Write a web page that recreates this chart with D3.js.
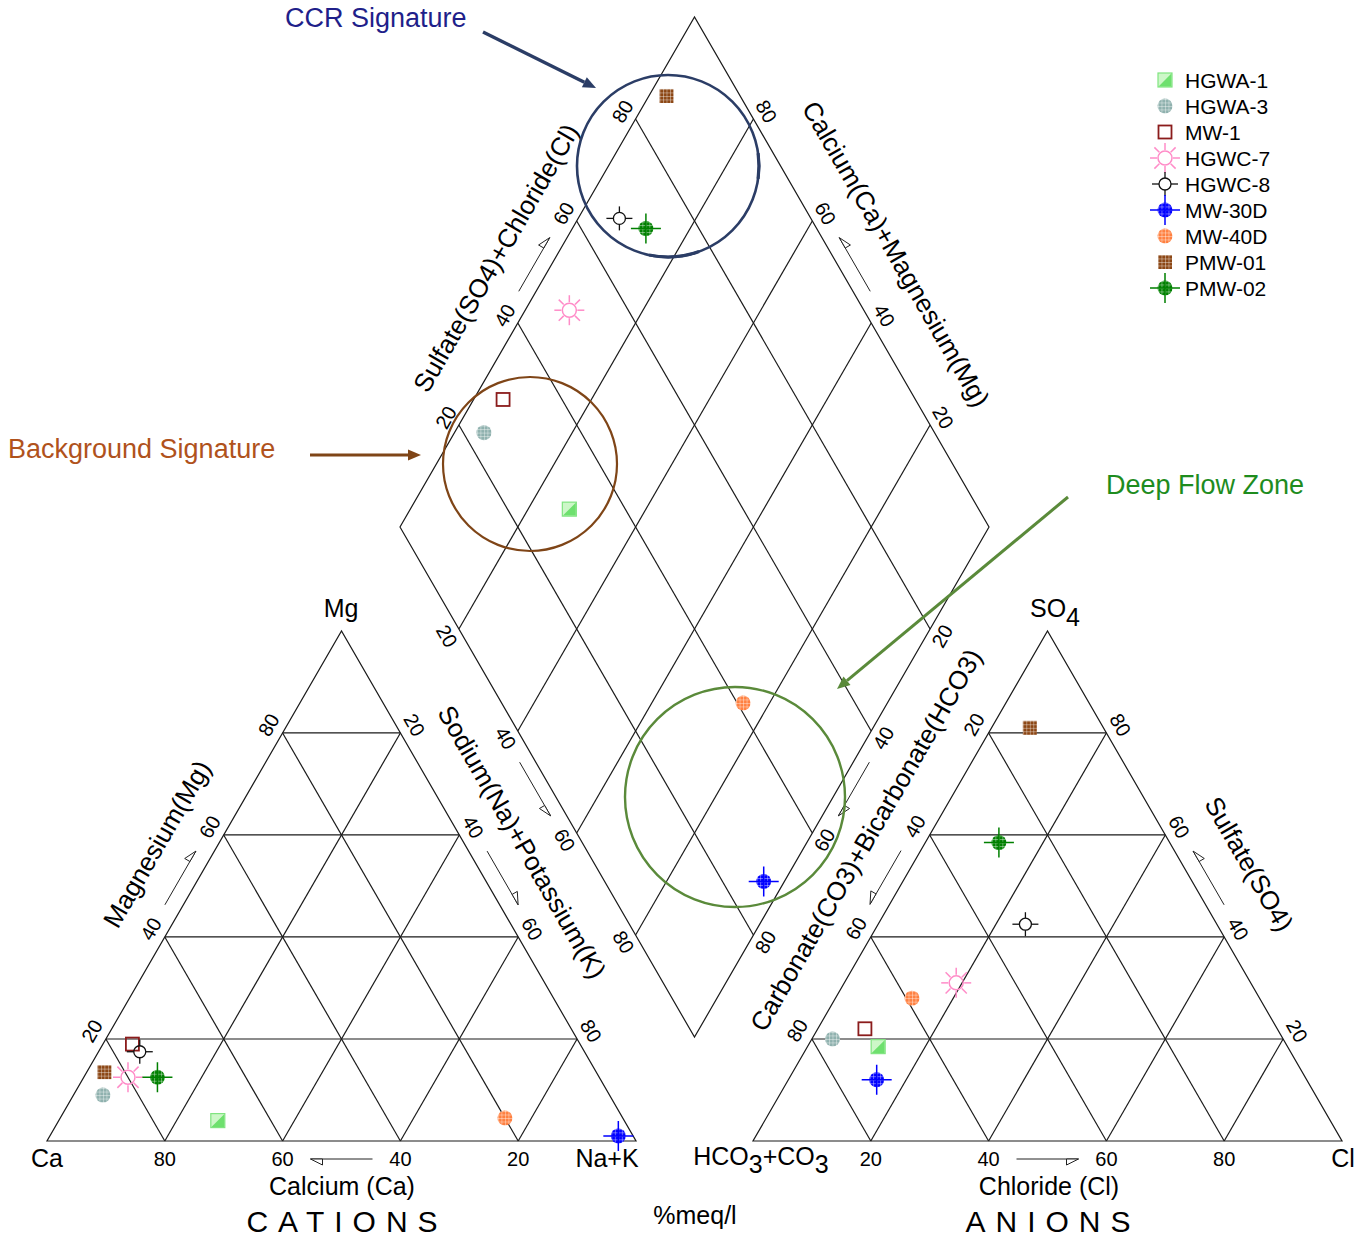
<!DOCTYPE html>
<html>
<head>
<meta charset="utf-8">
<script src="https://cdn.jsdelivr.net/npm/d3@7"></script>
<style>
  body { margin: 0; background: #fff; }
  svg { display: block; font-family: "Liberation Sans", Arial, Helvetica, sans-serif; }
</style>
</head>
<body>
<svg id="chart" width="1364" height="1241"></svg>
<script>
// ---- Sample chemistry, % meq/l ----
const samples         = ["HGWA-1", "HGWA-3", "MW-1", "HGWC-7", "HGWC-8", "MW-30D", "MW-40D", "PMW-01", "PMW-02"];
const calcium         = [69,   86,   76,   80,   75.5, 2.5,  20,   83.5, 75];
const magnesium       = [4,    9,    19,   12.5, 17.5, 1,    4.5,  13.5, 12.5];
const sodiumPotassium = [27,   5,    5,    7.5,  7,    96.5, 75.5, 3,    12.5];
const chloride        = [12,   3.5,  8,    19,   25,   15,   13,   6.5,  12.5];
const sulfate         = [18.5, 20,   22,   31,   42.5, 12,   28,   81,   58.5];
const bicarbonate     = [69.5, 76.5, 70,   50,   32.5, 73,   59,   12.5, 29];

// ---- Axis ticks ----
const gridTicks = [20, 40, 60, 80];

// ---- Symbol styling per sample ----
const symbolKinds  = ["halfSquare", "meshCircle", "openSquare", "sun", "ringCross", "meshCross", "meshCircle", "meshSquare", "meshCross"];
const symbolColors = ["#80e480", "#8fb1ae", "#8b1c1c", "#ff8cc8", "#111111", "#0000ff", "#ff7f3f", "#8b4513", "#008000"];

// ---- Zones ----
const zoneNames  = ["CCR Signature", "Background Signature", "Deep Flow Zone"];
const zoneColors = ["#2b3d66", "#7f4517", "#5a8a3a"];
const zoneText   = ["#1f1f8a", "#b0521c", "#1e8c1e"];

const svg = d3.select("#chart");
const defs = svg.append("defs");

// geometry
const SIDE = 589;
const HEIGHT = SIDE * Math.sqrt(3) / 2;
const along = d3.scaleLinear().domain([0, 100]).range([0, SIDE]);
const rise  = d3.scaleLinear().domain([0, 100]).range([0, HEIGHT]);

const cationOrigin = { x: 47, y: 1141 };
const anionOrigin  = { x: 753, y: 1141 };
const diamondLeft  = { x: 400, y: 527 };

// a: share toward the lower-right vertex, b: share toward the apex
function tri(origin, a, b) {
  return [origin.x + along(a) + along(b) / 2, origin.y - rise(b)];
}
// n: Na+K, s: SO4+Cl
function dia(n, s) {
  return [diamondLeft.x + along(n) / 2 + along(s) / 2, diamondLeft.y + rise(n) - rise(s)];
}

const lineGen = d3.line();
const frame = svg.append("g").attr("fill", "none").attr("stroke", "#1a1a1a").attr("stroke-width", 1.2);

function drawTriangle(origin) {
  frame.append("path").attr("d", lineGen([tri(origin, 0, 0), tri(origin, 100, 0), tri(origin, 0, 100)]) + "Z");
  gridTicks.forEach(k => {
    frame.append("path").attr("d", lineGen([tri(origin, 0, k), tri(origin, 100 - k, k)]));
    frame.append("path").attr("d", lineGen([tri(origin, k, 0), tri(origin, k, 100 - k)]));
    frame.append("path").attr("d", lineGen([tri(origin, 100 - k, 0), tri(origin, 0, 100 - k)]));
  });
}
drawTriangle(cationOrigin);
drawTriangle(anionOrigin);

frame.append("path").attr("d", lineGen([dia(0, 0), dia(100, 0), dia(100, 100), dia(0, 100)]) + "Z");
gridTicks.forEach(k => {
  frame.append("path").attr("d", lineGen([dia(k, 0), dia(k, 100)]));
  frame.append("path").attr("d", lineGen([dia(0, k), dia(100, k)]));
});

// ---- side tick labels and direction arrows ----
const labelLayer = svg.append("g").attr("fill", "#000");
const c30 = Math.sqrt(3) / 2;

function sideLabels(pointAt, normal, rotation, offset, halo, fontSize) {
  const pos = {};
  gridTicks.forEach(k => {
    const p = pointAt(k);
    const x = p[0] + normal[0] * offset, y = p[1] + normal[1] * offset;
    pos[k] = [x, y];
    const t = labelLayer.append("text")
      .attr("transform", `translate(${x},${y}) rotate(${rotation})`)
      .attr("text-anchor", "middle")
      .attr("dominant-baseline", "central")
      .attr("font-size", fontSize || 20)
      .text(k);
    if (halo) t.attr("stroke", "#fff").attr("stroke-width", 6).attr("paint-order", "stroke");
  });
  // arrow running from the 40 label toward the 60 label, with a half head on the outer side
  const a = pos[40], b = pos[60];
  const dx = b[0] - a[0], dy = b[1] - a[1];
  const len = Math.hypot(dx, dy);
  const ux = dx / len, uy = dy / len;
  const trim = (len - 62) / 2;
  const s = [a[0] + ux * trim, a[1] + uy * trim];
  const e = [b[0] - ux * trim, b[1] - uy * trim];
  const g = labelLayer.append("g").attr("fill", "#fff").attr("stroke", "#222").attr("stroke-width", 1);
  g.append("path").attr("d", lineGen([s, e]));
  const back = [e[0] - ux * 12, e[1] - uy * 12];
  g.append("path").attr("d", lineGen([e, back, [back[0] + normal[0] * 6, back[1] + normal[1] * 6]]) + "Z");
}

// cations
sideLabels(k => tri(cationOrigin, 0, k), [-c30, -0.5], -60, 16, true);
sideLabels(k => tri(cationOrigin, k, 100 - k), [c30, -0.5], 60, 16, true);
sideLabels(k => tri(cationOrigin, 100 - k, 0), [0, 1], 0, 18, false, 20);
// anions
sideLabels(k => tri(anionOrigin, 0, 100 - k), [-c30, -0.5], -60, 17, true);
sideLabels(k => tri(anionOrigin, 100 - k, k), [c30, -0.5], 60, 16, true);
sideLabels(k => tri(anionOrigin, k, 0), [0, 1], 0, 18, false, 20);
// diamond
sideLabels(k => dia(0, k), [-c30, -0.5], -60, 15, true);
sideLabels(k => dia(100 - k, 100), [c30, -0.5], 60, 15, true);
sideLabels(k => dia(k, 0), [-c30, 0.5], 60, 14, true);
sideLabels(k => dia(100, 100 - k), [c30, 0.5], -60, 14, true);

// ---- axis titles ----
const titles = svg.append("g").attr("font-size", 26).attr("fill", "#000")
  .attr("text-anchor", "middle").attr("dominant-baseline", "central");
function title(text, x, y, rot) {
  titles.append("text").attr("transform", `translate(${x},${y}) rotate(${rot})`).text(text);
}
title("Magnesium(Mg)", 157, 844, -60);
title("Sodium(Na)+Potassium(K)", 522, 842, 60);
title("Sulfate(SO4)+Chloride(Cl)", 496, 258, -60);
title("Calcium(Ca)+Magnesium(Mg)", 896, 254, 60);
title("Carbonate(CO3)+Bicarbonate(HCO3)", 866, 840, -60);
title("Sulfate(SO4)", 1249, 864, 60);

const plain = svg.append("g").attr("font-size", 25).attr("fill", "#000")
  .attr("text-anchor", "middle").attr("dominant-baseline", "central");
plain.append("text").attr("x", 341).attr("y", 608).text("Mg");
plain.append("text").attr("x", 47).attr("y", 1158).text("Ca");
plain.append("text").attr("x", 607).attr("y", 1158).text("Na+K");
plain.append("text").attr("x", 1343).attr("y", 1158).text("Cl");
plain.append("text").attr("x", 342).attr("y", 1186).text("Calcium (Ca)");
plain.append("text").attr("x", 1049).attr("y", 1186).text("Chloride (Cl)");
plain.append("text").attr("x", 695).attr("y", 1215).text("%meq/l");

const so4 = plain.append("text").attr("x", 1055).attr("y", 608);
so4.append("tspan").text("SO");
so4.append("tspan").attr("dy", 9).text("4");
const hco3 = plain.append("text").attr("x", 761).attr("y", 1156);
hco3.append("tspan").text("HCO");
hco3.append("tspan").attr("dy", 8).text("3");
hco3.append("tspan").attr("dy", -8).text("+CO");
hco3.append("tspan").attr("dy", 8).text("3");

function spaced(text, cx, y) {
  const t = svg.append("text").attr("y", y).attr("font-size", 30).attr("letter-spacing", 10)
    .attr("dominant-baseline", "central").attr("fill", "#000").text(text);
  const w = t.node().getComputedTextLength();
  t.attr("x", cx - (w - 10) / 2);
}
spaced("CATIONS", 342, 1221);
spaced("ANIONS", 1048, 1221);

// ---- zone outlines and call-outs ----
const zones = svg.append("g").attr("fill", "none");
const zoneCircles = [[668, 166, 91], [530, 464, 87], [735, 797, 110]];
const zoneArrows = [[[483, 32], [596, 88]], [[310, 455], [421, 455]], [[1068, 497], [837, 689]]];
const zoneLabels = [[285, 18], [8, 449], [1106, 485]];
const zoneWidths = [2.6, 2.2, 2.4];

zoneCircles.forEach((c, i) => {
  zones.append("circle").attr("cx", c[0]).attr("cy", c[1]).attr("r", c[2])
    .attr("stroke", zoneColors[i]).attr("stroke-width", zoneWidths[i]);
  const [s, e] = zoneArrows[i];
  const dx = e[0] - s[0], dy = e[1] - s[1], len = Math.hypot(dx, dy);
  const ux = dx / len, uy = dy / len;
  const head = 13, half = 5.5;
  const base = [e[0] - ux * head, e[1] - uy * head];
  zones.append("path").attr("d", lineGen([s, base]))
    .attr("stroke", zoneColors[i]).attr("stroke-width", i === 0 ? 3.5 : 3);
  zones.append("path")
    .attr("d", lineGen([e, [base[0] - uy * half, base[1] + ux * half], [base[0] + uy * half, base[1] - ux * half]]) + "Z")
    .attr("fill", zoneColors[i]);
  svg.append("text").attr("x", zoneLabels[i][0]).attr("y", zoneLabels[i][1])
    .attr("dominant-baseline", "central").attr("font-size", 27).attr("fill", zoneText[i])
    .text(zoneNames[i]);
});

// heavier pen strokes on the CCR ring
const ccr = zoneCircles[0];
const arcGen = d3.arc().innerRadius(ccr[2] - 1.6).outerRadius(ccr[2] + 1.6);
[[160, 192], [82, 98]].forEach(([a0, a1]) => {
  zones.append("path")
    .attr("transform", `translate(${ccr[0]},${ccr[1]})`)
    .attr("d", arcGen({ startAngle: a0 * Math.PI / 180, endAngle: a1 * Math.PI / 180 }))
    .attr("fill", zoneColors[0]);
});

// ---- sample symbols ----
function meshPattern(id, color) {
  const p = defs.append("pattern").attr("id", id).attr("patternUnits", "userSpaceOnUse")
    .attr("width", 3.5).attr("height", 3.5);
  p.append("rect").attr("width", 3.5).attr("height", 3.5).attr("fill", color);
  p.append("path").attr("d", "M0,0.5H3.5M0.5,0V3.5").attr("stroke", "#fff")
    .attr("stroke-opacity", 0.55).attr("stroke-width", 0.7);
}
symbolColors.forEach((c, i) => meshPattern("mesh" + i, c));

function drawSymbol(g, i) {
  const kind = symbolKinds[i], color = symbolColors[i], fill = `url(#mesh${i})`;
  if (kind === "halfSquare") {
    g.append("rect").attr("x", -7).attr("y", -7).attr("width", 14).attr("height", 14)
      .attr("fill", "#cdf7c8").attr("stroke", color).attr("stroke-width", 1.2);
    g.append("path").attr("d", "M6.4,-6.4L6.4,6.4L-6.4,6.4Z").attr("fill", "#6ee06e");
  } else if (kind === "meshCircle") {
    g.append("circle").attr("r", 7.5).attr("fill", fill);
  } else if (kind === "openSquare") {
    g.append("rect").attr("x", -6.5).attr("y", -6.5).attr("width", 13).attr("height", 13)
      .attr("fill", "#fff").attr("fill-opacity", 0).attr("stroke", color).attr("stroke-width", 1.8);
  } else if (kind === "sun") {
    d3.range(8).forEach(j => {
      const a = j * Math.PI / 4;
      g.append("line").attr("x1", Math.cos(a) * 8).attr("y1", Math.sin(a) * 8)
        .attr("x2", Math.cos(a) * 15).attr("y2", Math.sin(a) * 15)
        .attr("stroke", color).attr("stroke-width", 1.5);
    });
    g.append("circle").attr("r", 7).attr("fill", "none").attr("stroke", color).attr("stroke-width", 1.5);
  } else if (kind === "ringCross") {
    [[6, 0, 13, 0], [-6, 0, -13, 0], [0, 6, 0, 12], [0, -6, 0, -12]].forEach(l => {
      g.append("line").attr("x1", l[0]).attr("y1", l[1]).attr("x2", l[2]).attr("y2", l[3])
        .attr("stroke", color).attr("stroke-width", 1.3);
    });
    g.append("circle").attr("r", 6).attr("fill", "none").attr("stroke", color).attr("stroke-width", 1.3);
  } else if (kind === "meshCross") {
    g.append("circle").attr("r", 7.5).attr("fill", fill);
    g.append("path").attr("d", "M-15,0H15M0,-15V15").attr("stroke", color).attr("stroke-width", 1.5);
  } else if (kind === "meshSquare") {
    g.append("rect").attr("x", -7).attr("y", -7).attr("width", 14).attr("height", 14).attr("fill", fill);
  }
}

const points = svg.append("g");
samples.forEach((name, i) => {
  const cat = tri(cationOrigin, sodiumPotassium[i], magnesium[i]);
  const ani = tri(anionOrigin, chloride[i], sulfate[i]);
  const dmd = dia(sodiumPotassium[i], sulfate[i] + chloride[i]);
  [cat, ani, dmd].forEach(p => {
    drawSymbol(points.append("g").attr("transform", `translate(${p[0]},${p[1]})`), i);
  });
});

// ---- legend ----
const legend = svg.append("g").attr("transform", "translate(1165,80)");
samples.forEach((name, i) => {
  const row = legend.append("g").attr("transform", `translate(0,${i * 26})`);
  drawSymbol(row.append("g"), i);
  row.append("text").attr("x", 20).attr("dominant-baseline", "central")
    .attr("font-size", 21).attr("fill", "#000").text(name);
});
</script>
</body>
</html>
